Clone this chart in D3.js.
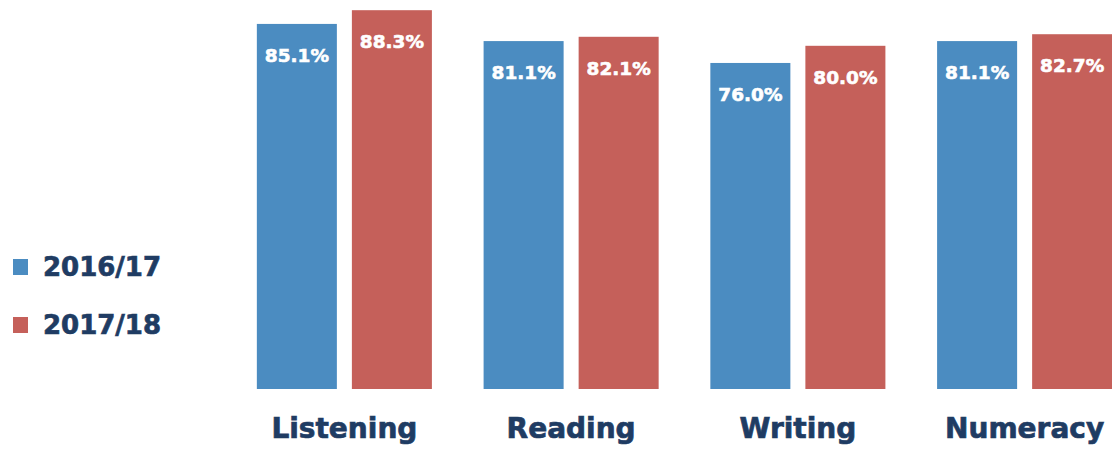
<!DOCTYPE html>
<html>
<head>
<meta charset="utf-8">
<script src="https://cdn.jsdelivr.net/npm/d3@7"></script>
<style>
  html, body { margin: 0; padding: 0; background: #ffffff; }
  svg { display: block; }
</style>
</head>
<body>
<svg id="chart" width="1112" height="449"></svg>
<script>
// Assessment pass rates by skill area, two academic years
const categories = ["Listening", "Reading", "Writing", "Numeracy"];
const seriesNames = ["2016/17", "2017/18"];
const values2016 = [85.1, 81.1, 76.0, 81.1];
const values2017 = [88.3, 82.1, 80.0, 82.7];
const seriesColors = ["#4b8cc1", "#c5605a"];

const svg = d3.select("#chart");
const baseY = 389;
const ink = "#1f3c63";

const x0 = d3.scaleBand()
  .domain(categories)
  .range([231, 1138])
  .paddingInner(0.228)
  .paddingOuter(0.114);

const x1 = d3.scaleBand()
  .domain(seriesNames)
  .range([0, x0.bandwidth()])
  .paddingInner(0.158);

const y = d3.scaleLinear()
  .domain([0, 100])
  .range([baseY, baseY - 429]);

const color = d3.scaleOrdinal().domain(seriesNames).range(seriesColors);

const rows = categories.map((c, i) => ({
  category: c,
  values: [
    { series: seriesNames[0], value: values2016[i] },
    { series: seriesNames[1], value: values2017[i] }
  ]
}));

const groups = svg.append("g").selectAll("g")
  .data(rows)
  .join("g")
  .attr("transform", d => `translate(${x0(d.category)},0)`);

groups.selectAll("rect")
  .data(d => d.values)
  .join("rect")
  .attr("x", d => x1(d.series))
  .attr("y", d => y(d.value))
  .attr("width", x1.bandwidth())
  .attr("height", d => baseY - y(d.value))
  .attr("fill", d => color(d.series));

// value labels inside the top of each bar
groups.selectAll("text.val")
  .data(d => d.values)
  .join("text")
  .attr("class", "val")
  .attr("x", d => x1(d.series) + x1.bandwidth() / 2)
  .attr("y", d => y(d.value) + 38)
  .attr("text-anchor", "middle")
  .attr("fill", "#ffffff")
  .attr("stroke", "#ffffff")
  .attr("stroke-width", 0.6)
  .style("font-family", "'DejaVu Sans', sans-serif")
  .style("font-weight", "bold")
  .style("font-size", "18.5px")
  .text(d => d.value.toFixed(1) + "%");

// category axis labels
const xAxis = d3.axisBottom(x0).tickSize(0).tickPadding(0);
const axisG = svg.append("g")
  .attr("transform", `translate(0,${baseY})`)
  .call(xAxis);
axisG.select(".domain").remove();
axisG.selectAll("text")
  .attr("dy", null)
  .attr("y", 49)
  .attr("fill", ink)
  .attr("stroke", ink)
  .attr("stroke-width", 0.7)
  .style("font-family", "'DejaVu Sans', sans-serif")
  .style("font-weight", "bold")
  .style("font-size", "28px");

// legend
const legend = svg.append("g").selectAll("g")
  .data(seriesNames)
  .join("g")
  .attr("transform", (d, i) => `translate(13,${259 + i * 58})`);

legend.append("rect")
  .attr("width", 15)
  .attr("height", 16)
  .attr("fill", d => color(d));

legend.append("text")
  .attr("x", 30)
  .attr("y", 17)
  .attr("fill", ink)
  .attr("stroke", ink)
  .attr("stroke-width", 0.7)
  .style("font-family", "'DejaVu Sans', sans-serif")
  .style("font-weight", "bold")
  .style("font-size", "26px")
  .text(d => d);
</script>
</body>
</html>
